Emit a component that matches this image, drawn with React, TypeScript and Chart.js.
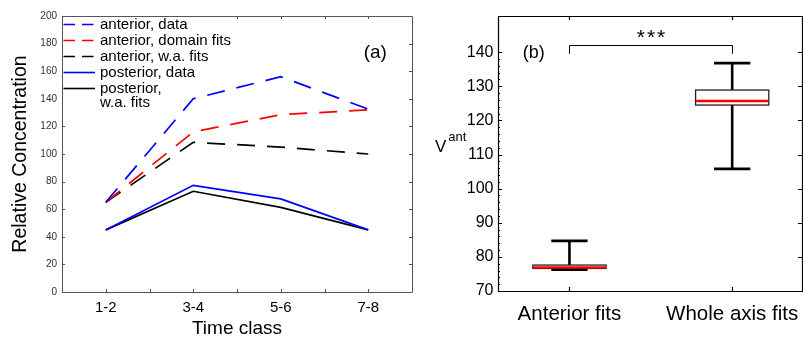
import React, { useEffect, useRef } from 'react';
import { Chart, registerables } from 'chart.js';

Chart.register(...registerables);

const FONT = '"Liberation Sans", Arial, Helvetica, sans-serif';

// ---- Panel (a): concentration per time class ----
const timeClasses = ['1-2', '3-4', '5-6', '7-8'];
const anteriorData = [65, 140, 156, 132.5];
const anteriorDomainFits = [65, 116, 128.5, 132];
const anteriorWaFits = [65, 108.5, 105, 100];
const posteriorData = [45, 77.3, 67.5, 45];
const posteriorWaFits = [45, 73, 61.3, 45];
const concentrationTicks = [0, 20, 40, 60, 80, 100, 120, 140, 160, 180, 200];
const timeTickMarks = [1, 1.5, 2, 2.5, 3, 3.5, 4];

// ---- Panel (b): V_ant box plots ----
const fitGroups = ['Anterior fits', 'Whole axis fits'];
const whiskerLow = [76.3, 105.8];
const boxQ1 = [76.6, 124.5];
const boxMedian = [76.9, 125.7];
const boxQ3 = [77.6, 128.9];
const whiskerHigh = [84.7, 136.8];
const vantTicks = [70, 80, 90, 100, 110, 120, 130, 140];
const vantMinorTicks = Array.from({ length: 36 }, (_, i) => 70 + i * 2);
const significanceText = '***';
const bracketGroups = [1, 2];
const bracketTop = 142.1;
const bracketLegBottom = 139.5;

type Series = { label: string; values: number[]; color: string; dashed: boolean };

const seriesA: Series[] = [
  { label: 'anterior, data', values: anteriorData, color: '#0000ff', dashed: true },
  { label: 'anterior, domain fits', values: anteriorDomainFits, color: '#ff0000', dashed: true },
  { label: 'anterior, w.a. fits', values: anteriorWaFits, color: '#000000', dashed: true },
  { label: 'posterior, data', values: posteriorData, color: '#0000ff', dashed: false },
  { label: 'posterior,\nw.a. fits', values: posteriorWaFits, color: '#000000', dashed: false },
];

const LINE_DASH = [18, 12];
const LEGEND_DASH = [11.5, 7];

type FrameOpts = {
  color: string;
  lineWidth: number;
  xTicks: number[];
  yTicks: number[];
  yMinor?: number[];
  len: number;
  minorLen?: number;
};

// Box outline with inward tick marks on all four sides
function drawFrame(chart: any, o: FrameOpts) {
  const { ctx, chartArea: a, scales } = chart;
  const xs = scales.x;
  const ys = scales.y;
  ctx.save();
  ctx.strokeStyle = o.color;
  ctx.lineWidth = o.lineWidth;
  ctx.beginPath();
  ctx.rect(Math.round(a.left) + 0.5, Math.round(a.top) + 0.5, Math.round(a.right - a.left), Math.round(a.bottom - a.top));
  ctx.stroke();
  ctx.beginPath();
  for (const v of o.xTicks) {
    const px = Math.round(xs.getPixelForValue(v)) + 0.5;
    ctx.moveTo(px, a.bottom);
    ctx.lineTo(px, a.bottom - o.len);
    ctx.moveTo(px, a.top);
    ctx.lineTo(px, a.top + o.len);
  }
  for (const v of o.yTicks) {
    const py = Math.round(ys.getPixelForValue(v)) + 0.5;
    ctx.moveTo(a.left, py);
    ctx.lineTo(a.left + o.len, py);
    ctx.moveTo(a.right, py);
    ctx.lineTo(a.right - o.len, py);
  }
  if (o.yMinor) {
    for (const v of o.yMinor) {
      const py = Math.round(ys.getPixelForValue(v)) + 0.5;
      ctx.moveTo(a.left, py);
      ctx.lineTo(a.left + (o.minorLen || 2), py);
    }
  }
  ctx.stroke();
  ctx.restore();
}

function drawLegendA(chart: any) {
  const { ctx, chartArea: a } = chart;
  ctx.save();
  ctx.font = `15px ${FONT}`;
  ctx.textBaseline = 'middle';
  const rowH = 16;
  const x0 = a.left + 1.5;
  const x1 = a.left + 33;
  const tx = a.left + 38;
  let maxW = 0;
  seriesA.forEach((s) => s.label.split('\n').forEach((l) => (maxW = Math.max(maxW, ctx.measureText(l).width))));
  const lastLines = seriesA[seriesA.length - 1].label.split('\n').length;
  const h = 8 + (seriesA.length - 1) * rowH + (lastLines - 1) * 14 + 8;
  ctx.fillStyle = '#ffffff';
  ctx.fillRect(a.left + 1, a.top + 1, tx - a.left + maxW + 2, h);
  seriesA.forEach((s, i) => {
    const y = a.top + 8.5 + i * rowH;
    ctx.strokeStyle = s.color;
    ctx.lineWidth = 1.6;
    ctx.setLineDash(s.dashed ? LEGEND_DASH : []);
    ctx.beginPath();
    ctx.moveTo(x0, y);
    ctx.lineTo(x1, y);
    ctx.stroke();
    ctx.setLineDash([]);
    ctx.fillStyle = '#000';
    s.label.split('\n').forEach((line, j) => {
      ctx.fillText(line, tx, y + j * 14);
    });
  });
  ctx.restore();
}

const frameOptsA: FrameOpts = {
  color: '#555',
  lineWidth: 1,
  xTicks: timeTickMarks,
  yTicks: concentrationTicks,
  len: 3,
};

// Frame and legend sit beneath the data lines
const backgroundA = {
  id: 'backgroundA',
  beforeDatasetsDraw(chart: any) {
    drawFrame(chart, frameOptsA);
    drawLegendA(chart);
  },
};

const panelLabelA = { text: '(a)', x: 4.08, y: 173 };
const panelLabelB = { text: '(b)', x: 0.78, y: 139.7 };

function panelLabelPlugin(id: string, lab: { text: string; x: number; y: number }, size: number) {
  return {
    id,
    afterDraw(chart: any) {
      const { ctx, scales } = chart;
      ctx.save();
      ctx.font = `${size}px ${FONT}`;
      ctx.fillStyle = '#000';
      ctx.textAlign = 'center';
      ctx.textBaseline = 'middle';
      ctx.fillText(lab.text, scales.x.getPixelForValue(lab.x), scales.y.getPixelForValue(lab.y));
      ctx.restore();
    },
  };
}

const BOX_WIDTH = 0.45;
const CAP_WIDTH = 0.223;

const boxPlotPlugin = {
  id: 'boxPlot',
  afterDatasetsDraw(chart: any) {
    const { ctx, scales } = chart;
    const xs = scales.x;
    const ys = scales.y;
    ctx.save();
    fitGroups.forEach((_, i) => {
      const cx = xs.getPixelForValue(i + 1);
      const hb = xs.getPixelForValue(1 + BOX_WIDTH / 2) - xs.getPixelForValue(1);
      const hc = xs.getPixelForValue(1 + CAP_WIDTH / 2) - xs.getPixelForValue(1);
      const yLow = ys.getPixelForValue(whiskerLow[i]);
      const yQ1 = ys.getPixelForValue(boxQ1[i]);
      const yMed = ys.getPixelForValue(boxMedian[i]);
      const yQ3 = ys.getPixelForValue(boxQ3[i]);
      const yHigh = ys.getPixelForValue(whiskerHigh[i]);
      // whisker stems
      ctx.strokeStyle = '#000';
      ctx.lineWidth = 2.6;
      ctx.beginPath();
      ctx.moveTo(cx, yHigh);
      ctx.lineTo(cx, yQ3);
      ctx.moveTo(cx, yQ1);
      ctx.lineTo(cx, yLow);
      ctx.stroke();
      // box
      ctx.fillStyle = '#fcfcfc';
      ctx.fillRect(cx - hb, yQ3, hb * 2, yQ1 - yQ3);
      ctx.strokeStyle = '#222';
      ctx.lineWidth = 1.3;
      ctx.strokeRect(cx - hb, yQ3, hb * 2, yQ1 - yQ3);
      // caps
      ctx.strokeStyle = '#000';
      ctx.lineWidth = 2.8;
      ctx.beginPath();
      ctx.moveTo(cx - hc, yHigh);
      ctx.lineTo(cx + hc, yHigh);
      ctx.moveTo(cx - hc, yLow);
      ctx.lineTo(cx + hc, yLow);
      ctx.stroke();
      // median
      ctx.strokeStyle = '#ff0000';
      ctx.lineWidth = 2.6;
      ctx.beginPath();
      ctx.moveTo(cx - hb + 0.5, yMed);
      ctx.lineTo(cx + hb - 0.5, yMed);
      ctx.stroke();
    });
    // significance bracket
    const bx0 = Math.round(xs.getPixelForValue(bracketGroups[0])) + 0.5;
    const bx1 = Math.round(xs.getPixelForValue(bracketGroups[1])) + 0.5;
    const by = Math.round(ys.getPixelForValue(bracketTop)) + 0.5;
    const byl = ys.getPixelForValue(bracketLegBottom);
    ctx.strokeStyle = '#000';
    ctx.lineWidth = 1;
    ctx.beginPath();
    ctx.moveTo(bx0, byl);
    ctx.lineTo(bx0, by);
    ctx.lineTo(bx1, by);
    ctx.lineTo(bx1, byl);
    ctx.stroke();
    ctx.fillStyle = '#000';
    ctx.font = `21px ${FONT}`;
    (ctx as any).letterSpacing = '2px';
    ctx.textAlign = 'center';
    ctx.textBaseline = 'alphabetic';
    ctx.fillText(significanceText, (bx0 + bx1) / 2 + 1, by - 2);
    ctx.restore();
  },
};

const frameOptsB: FrameOpts = {
  color: '#000',
  lineWidth: 1.2,
  xTicks: [1, 2],
  yTicks: vantTicks,
  yMinor: vantMinorTicks,
  len: 4,
  minorLen: 2,
};

const frameB = {
  id: 'frameB',
  afterDraw(chart: any) {
    drawFrame(chart, frameOptsB);
  },
};

const vantTitle = {
  id: 'vantTitle',
  afterDraw(chart: any) {
    const { ctx, chartArea: a } = chart;
    ctx.save();
    ctx.fillStyle = '#000';
    ctx.textBaseline = 'alphabetic';
    ctx.textAlign = 'left';
    ctx.font = `17px ${FONT}`;
    const vx = a.left - 63;
    const vy = (a.top + a.bottom) / 2 - 1.5;
    ctx.fillText('V', vx, vy);
    const w = ctx.measureText('V').width;
    ctx.font = `13px ${FONT}`;
    ctx.fillText('ant', vx + w + 2, vy - 11);
    ctx.restore();
  },
};

// Keep the plot area fixed: ignore the extra room Chart.js reserves for overhanging edge labels
const fixHorizontal = (height: number) => (s: any) => {
  s.height = height;
  s.paddingLeft = 0;
  s.paddingRight = 0;
};
const fixVertical = (width: number) => (s: any) => {
  s.width = width;
  s.paddingTop = 0;
  s.paddingBottom = 0;
};

export default function App() {
  const refA = useRef<HTMLCanvasElement>(null);
  const refB = useRef<HTMLCanvasElement>(null);

  useEffect(() => {
    if (!refA.current || !refB.current) return;

    const chartA = new Chart(refA.current, {
      type: 'line',
      data: {
        datasets: seriesA.map((s) => ({
          label: s.label,
          data: s.values.map((v, i) => ({ x: i + 1, y: v })),
          borderColor: s.color,
          backgroundColor: s.color,
          borderWidth: 1.7,
          borderDash: s.dashed ? LINE_DASH : [],
          pointRadius: 0,
          fill: false,
          tension: 0,
        })),
      },
      options: {
        animation: false,
        responsive: false,
        devicePixelRatio: 1,
        layout: { padding: { top: 16, right: 18, left: 0, bottom: 0 } },
        plugins: { legend: { display: false }, tooltip: { enabled: false } },
        scales: {
          x: {
            type: 'linear',
            min: 0.5,
            max: 4.5,
            afterBuildTicks: (s: any) => {
              s.ticks = timeClasses.map((_, i) => ({ value: i + 1 }));
            },
            afterFit: fixHorizontal(49),
            grid: { display: false, drawTicks: false },
            border: { display: false },
            ticks: {
              autoSkip: false,
              maxRotation: 0,
              padding: 7,
              color: '#000',
              font: { family: FONT, size: 15 },
              callback: (v: any) => timeClasses[Math.round(Number(v)) - 1] ?? '',
            },
            title: {
              display: true,
              text: 'Time class',
              color: '#000',
              font: { family: FONT, size: 19, lineHeight: 1.25 },
              padding: { top: 0, bottom: 0 },
            },
          },
          y: {
            min: 0,
            max: 200,
            afterBuildTicks: (s: any) => {
              s.ticks = concentrationTicks.map((v) => ({ value: v }));
            },
            afterFit: fixVertical(62),
            grid: { display: false, drawTicks: false },
            border: { display: false },
            ticks: {
              padding: 5,
              color: '#333',
              font: { family: FONT, size: 10 },
            },
            title: {
              display: true,
              text: 'Relative Concentration',
              color: '#000',
              font: { family: FONT, size: 19.5, lineHeight: 1.2 },
              padding: { top: 9, bottom: 0 },
            },
          },
        },
      },
      plugins: [backgroundA, panelLabelPlugin('labelA', panelLabelA, 19)],
    } as any);

    const chartB = new Chart(refB.current, {
      type: 'scatter',
      data: {
        datasets: [
          {
            label: 'median',
            data: boxMedian.map((v, i) => ({ x: i + 1, y: v })),
            pointRadius: 0,
            borderWidth: 0,
          },
        ],
      },
      options: {
        animation: false,
        responsive: false,
        devicePixelRatio: 1,
        layout: { padding: { top: 16, right: 1, left: 0, bottom: 0 } },
        plugins: { legend: { display: false }, tooltip: { enabled: false } },
        scales: {
          x: {
            type: 'linear',
            min: 0.561,
            max: 2.429,
            afterBuildTicks: (s: any) => {
              s.ticks = fitGroups.map((_, i) => ({ value: i + 1 }));
            },
            afterFit: fixHorizontal(50),
            grid: { display: false, drawTicks: false },
            border: { display: false },
            ticks: {
              autoSkip: false,
              maxRotation: 0,
              padding: 11,
              color: '#000',
              font: { family: FONT, size: 20.5 },
              callback: (v: any) => fitGroups[Math.round(Number(v)) - 1] ?? '',
            },
          },
          y: {
            min: 70,
            max: 150.6,
            afterBuildTicks: (s: any) => {
              s.ticks = vantTicks.map((v) => ({ value: v }));
            },
            afterFit: fixVertical(78),
            grid: { display: false, drawTicks: false },
            border: { display: false },
            ticks: {
              padding: 4.5,
              color: '#000',
              font: { family: FONT, size: 16 },
            },
          },
        },
      },
      plugins: [boxPlotPlugin, frameB, vantTitle, panelLabelPlugin('labelB', panelLabelB, 18)],
    } as any);

    return () => {
      chartA.destroy();
      chartB.destroy();
    };
  }, []);

  return (
    <div style={{ position: 'absolute', left: 0, top: 0, width: 803, height: 341, background: '#fff', overflow: 'hidden' }}>
      <canvas ref={refA} width={430} height={341} style={{ position: 'absolute', left: 0, top: 0, width: 430, height: 341 }} />
      <canvas ref={refB} width={383} height={341} style={{ position: 'absolute', left: 420, top: 0, width: 383, height: 341 }} />
    </div>
  );
}
